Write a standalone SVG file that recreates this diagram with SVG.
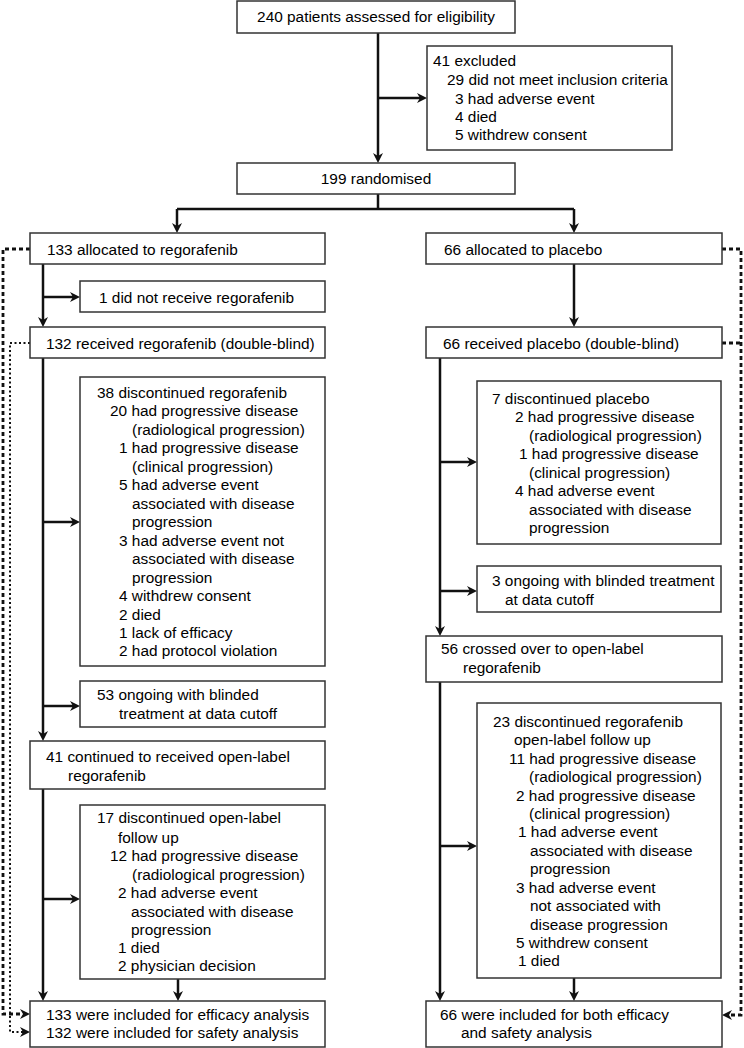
<svg xmlns="http://www.w3.org/2000/svg" width="744" height="1048" viewBox="0 0 744 1048">
<defs>
<style>
.box{fill:#fff;stroke:#333;stroke-width:1.5}
.t{font-family:"Liberation Sans",Arial,sans-serif;font-size:15.4px;fill:#000}
.c{fill:none;stroke:#111;stroke-width:2.5}
.dash{fill:none;stroke:#111;stroke-width:2.8;stroke-dasharray:4 3}
.dot{fill:none;stroke:#111;stroke-width:2;stroke-dasharray:2 2.5}
</style>
<marker id="ah" viewBox="0 0 10 10" refX="4" refY="5" markerWidth="12" markerHeight="10" markerUnits="userSpaceOnUse" orient="auto">
<path d="M0,0 L10,5 L0,10 L3,5 z" fill="#111"/>
</marker>
</defs>
<rect width="744" height="1048" fill="#fff"/>
<g id="connectors">
<path class="c" d="M378,33 V157" marker-end="url(#ah)"/>
<path class="c" d="M378,98 H421" marker-end="url(#ah)"/>
<path class="c" d="M378,194 V209 M177,209 H574"/>
<path class="c" d="M177,209 V227" marker-end="url(#ah)"/>
<path class="c" d="M574,209 V227" marker-end="url(#ah)"/>
<path class="c" d="M43,264 V321" marker-end="url(#ah)"/>
<path class="c" d="M43,297 H74" marker-end="url(#ah)"/>
<path class="c" d="M574,264 V321" marker-end="url(#ah)"/>
<path class="c" d="M43,358 V735" marker-end="url(#ah)"/>
<path class="c" d="M43,522 H74" marker-end="url(#ah)"/>
<path class="c" d="M43,706 H74" marker-end="url(#ah)"/>
<path class="c" d="M440,358 V630" marker-end="url(#ah)"/>
<path class="c" d="M440,462 H471" marker-end="url(#ah)"/>
<path class="c" d="M440,591 H471" marker-end="url(#ah)"/>
<path class="c" d="M43,789 V995" marker-end="url(#ah)"/>
<path class="c" d="M43,899 H74" marker-end="url(#ah)"/>
<path class="c" d="M178,979 V995" marker-end="url(#ah)"/>
<path class="c" d="M440,682 V995" marker-end="url(#ah)"/>
<path class="c" d="M440,846 H471" marker-end="url(#ah)"/>
<path class="c" d="M574,978 V995" marker-end="url(#ah)"/>
<path class="dash" d="M30,249 H3 V1014 H24" marker-end="url(#ah)"/>
<path class="dot" d="M30,343 H10 V1032 H24" marker-end="url(#ah)"/>
<path class="dash" d="M722,249 H741 V1015 H728" marker-end="url(#ah)"/>
<path class="dash" d="M722,343 H741"/>
</g>
<g id="n-assessed">
<rect class="box" x="237" y="1" width="278" height="32"/>
<text class="t" x="376" y="22" text-anchor="middle">240 patients assessed for eligibility</text>
</g>
<g id="n-excluded">
<rect class="box" x="427" y="46" width="245" height="104"/>
<text class="t" x="433" y="66">41 excluded</text>
<text class="t" x="447" y="85">29 did not meet inclusion criteria</text>
<text class="t" x="455" y="104">3 had adverse event</text>
<text class="t" x="455" y="122">4 died</text>
<text class="t" x="455" y="140">5 withdrew consent</text>
</g>
<g id="n-randomised">
<rect class="box" x="237" y="163" width="278" height="31"/>
<text class="t" x="376" y="184" text-anchor="middle">199 randomised</text>
</g>
<g id="n-alloc-rego">
<rect class="box" x="30" y="233" width="295" height="31"/>
<text class="t" x="47" y="255">133 allocated to regorafenib</text>
</g>
<g id="n-notreceive">
<rect class="box" x="80" y="281" width="245" height="31"/>
<text class="t" x="99" y="303">1 did not receive regorafenib</text>
</g>
<g id="n-recv-rego">
<rect class="box" x="30" y="327" width="295" height="31"/>
<text class="t" x="46" y="349">132 received regorafenib (double-blind)</text>
</g>
<g id="n-disc-rego">
<rect class="box" x="80" y="377" width="245" height="289"/>
<text class="t" x="97" y="398">38 discontinued regorafenib</text>
<text class="t" x="110" y="416">20 had progressive disease</text>
<text class="t" x="132" y="435">(radiological progression)</text>
<text class="t" x="119" y="453">1 had progressive disease</text>
<text class="t" x="132" y="472">(clinical progression)</text>
<text class="t" x="119" y="490">5 had adverse event</text>
<text class="t" x="132" y="509">associated with disease</text>
<text class="t" x="132" y="527">progression</text>
<text class="t" x="119" y="546">3 had adverse event not</text>
<text class="t" x="132" y="564">associated with disease</text>
<text class="t" x="132" y="583">progression</text>
<text class="t" x="119" y="601">4 withdrew consent</text>
<text class="t" x="119" y="620">2 died</text>
<text class="t" x="119" y="638">1 lack of efficacy</text>
<text class="t" x="119" y="656">2 had protocol violation</text>
</g>
<g id="n-ongoing-rego">
<rect class="box" x="80" y="681" width="245" height="46"/>
<text class="t" x="97" y="700">53 ongoing with blinded</text>
<text class="t" x="119" y="719">treatment at data cutoff</text>
</g>
<g id="n-continued">
<rect class="box" x="30" y="741" width="295" height="48"/>
<text class="t" x="46" y="762">41 continued to received open-label</text>
<text class="t" x="68" y="781">regorafenib</text>
</g>
<g id="n-disc-open">
<rect class="box" x="80" y="805" width="245" height="174"/>
<text class="t" x="97" y="823">17 discontinued open-label</text>
<text class="t" x="118" y="843">follow up</text>
<text class="t" x="110" y="861">12 had progressive disease</text>
<text class="t" x="132" y="880">(radiological progression)</text>
<text class="t" x="118" y="898">2 had adverse event</text>
<text class="t" x="131" y="917">associated with disease</text>
<text class="t" x="131" y="935">progression</text>
<text class="t" x="118" y="953">1 died</text>
<text class="t" x="118" y="971">2 physician decision</text>
</g>
<g id="n-final-rego">
<rect class="box" x="30" y="1001" width="295" height="46"/>
<text class="t" x="46" y="1020">133 were included for efficacy analysis</text>
<text class="t" x="46" y="1038">132 were included for safety analysis</text>
</g>
<g id="n-alloc-plac">
<rect class="box" x="426" y="233" width="296" height="31"/>
<text class="t" x="444" y="255">66 allocated to placebo</text>
</g>
<g id="n-recv-plac">
<rect class="box" x="426" y="327" width="296" height="31"/>
<text class="t" x="443" y="349">66 received placebo (double-blind)</text>
</g>
<g id="n-disc-plac">
<rect class="box" x="477" y="381" width="244" height="163"/>
<text class="t" x="492" y="404">7 discontinued placebo</text>
<text class="t" x="515" y="422">2 had progressive disease</text>
<text class="t" x="529" y="441">(radiological progression)</text>
<text class="t" x="519" y="459">1 had progressive disease</text>
<text class="t" x="529" y="478">(clinical progression)</text>
<text class="t" x="515" y="496">4 had adverse event</text>
<text class="t" x="529" y="515">associated with disease</text>
<text class="t" x="529" y="533">progression</text>
</g>
<g id="n-ongoing-plac">
<rect class="box" x="477" y="566" width="244" height="46"/>
<text class="t" x="492" y="586">3 ongoing with blinded treatment</text>
<text class="t" x="505" y="605">at data cutoff</text>
</g>
<g id="n-crossed">
<rect class="box" x="426" y="636" width="296" height="46"/>
<text class="t" x="441" y="654">56 crossed over to open-label</text>
<text class="t" x="463" y="673">regorafenib</text>
</g>
<g id="n-disc-cross">
<rect class="box" x="477" y="703" width="244" height="275"/>
<text class="t" x="493" y="727">23 discontinued regorafenib</text>
<text class="t" x="514" y="745">open-label follow up</text>
<text class="t" x="509" y="764">11 had progressive disease</text>
<text class="t" x="529" y="782">(radiological progression)</text>
<text class="t" x="516" y="801">2 had progressive disease</text>
<text class="t" x="529" y="819">(clinical progression)</text>
<text class="t" x="518" y="837">1 had adverse event</text>
<text class="t" x="530" y="856">associated with disease</text>
<text class="t" x="530" y="874">progression</text>
<text class="t" x="516" y="893">3 had adverse event</text>
<text class="t" x="530" y="911">not associated with</text>
<text class="t" x="530" y="930">disease progression</text>
<text class="t" x="516" y="948">5 withdrew consent</text>
<text class="t" x="518" y="966">1 died</text>
</g>
<g id="n-final-plac">
<rect class="box" x="426" y="1001" width="296" height="46"/>
<text class="t" x="440" y="1020">66 were included for both efficacy</text>
<text class="t" x="461" y="1038">and safety analysis</text>
</g>
</svg>
